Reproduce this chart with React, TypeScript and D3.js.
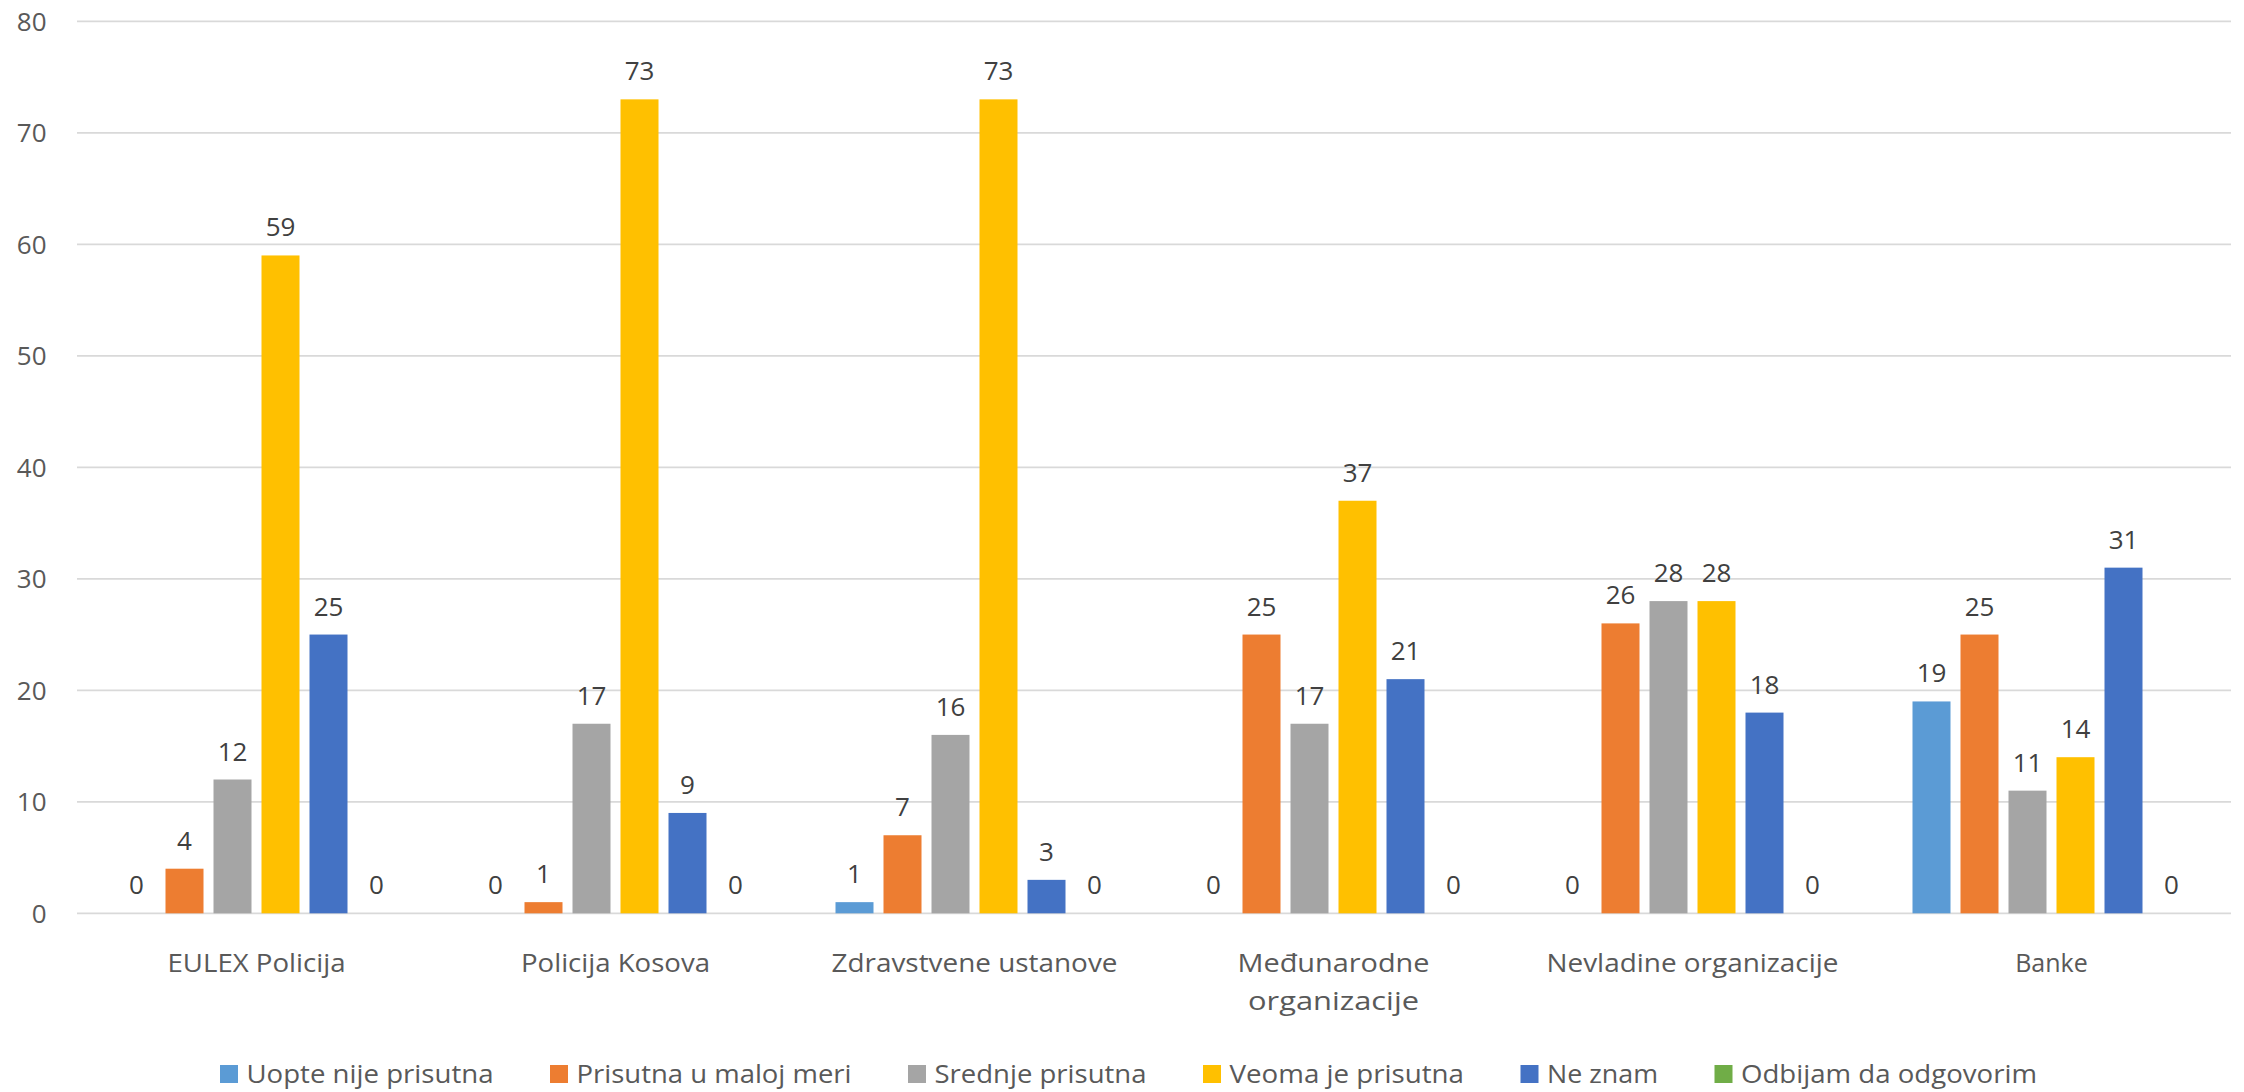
import React from "react";
import * as d3 from "d3";

const categories = [
  ["EULEX Policija"],
  ["Policija Kosova"],
  ["Zdravstvene ustanove"],
  ["Međunarodne", "organizacije"],
  ["Nevladine organizacije"],
  ["Banke"],
];

const seriesNames = [
  "Uopte nije prisutna",
  "Prisutna u maloj meri",
  "Srednje prisutna",
  "Veoma je prisutna",
  "Ne znam",
  "Odbijam da odgovorim",
];

const uopteNije = [0, 0, 1, 0, 0, 19];
const maloj = [4, 1, 7, 25, 26, 25];
const srednje = [12, 17, 16, 17, 28, 11];
const veoma = [59, 73, 73, 37, 28, 14];
const neZnam = [25, 9, 3, 21, 18, 31];
const odbijam = [0, 0, 0, 0, 0, 0];

const seriesValues = [uopteNije, maloj, srednje, veoma, neZnam, odbijam];

const yTicks = [0, 10, 20, 30, 40, 50, 60, 70, 80];

const colors = ["#5B9BD5", "#ED7D31", "#A5A5A5", "#FFC000", "#4472C4", "#70AD47"];

// layout-only constants (measured text widths from reference)
const catLabelWidths: (number | undefined)[][] = [[178], [189], [286], [192, 171], [292], [undefined]];
const legendTextWidths = [247, 275, 212, 234.5, 111, 296];

const W = 2244;
const H = 1092;
const plotLeft = 77;
const plotRight = 2231;
const plotTop = 21.3;
const plotBottom = 913.3;
const FONT = "'Open Sans', 'Noto Sans', sans-serif";

export default function App() {
  const x0 = d3
    .scaleBand<number>()
    .domain(categories.map((_, i) => i))
    .range([plotLeft, plotRight])
    .paddingInner(0)
    .paddingOuter(0);

  const groupW = 288;
  const x1 = d3
    .scaleBand<number>()
    .domain(seriesNames.map((_, i) => i))
    .range([-groupW / 2, groupW / 2])
    .paddingInner(10 / 48)
    .paddingOuter(5 / 48);

  const y = d3.scaleLinear().domain([0, 80]).range([plotBottom, plotTop]);

  // legend layout
  const legendStart = 220;
  const sq = 18;
  const sqGap = 8.5;
  const itemGap = 56.5;
  const legendItems: { sx: number; tx: number; w: number }[] = [];
  let cx = legendStart;
  legendTextWidths.forEach((w) => {
    legendItems.push({ sx: cx, tx: cx + sq + sqGap, w });
    cx += sq + sqGap + w + itemGap;
  });

  return (
    <svg
      width={W}
      height={H}
      style={{ position: "absolute", left: 0, top: 0, background: "#fff" }}
    >
      <rect x={0} y={0} width={W} height={H} fill="#fff" />
      {yTicks.map((t) => (
        <g key={t}>
          <line
            x1={plotLeft}
            x2={plotRight}
            y1={y(t)}
            y2={y(t)}
            stroke="#D9D9D9"
            strokeWidth={1.8}
          />
          <text
            x={46.5}
            y={y(t)}
            dy="0.36em"
            textAnchor="end"
            fontFamily={FONT}
            fontSize={26}
            fill="#595959"
          >
            {t}
          </text>
        </g>
      ))}

      {categories.map((cat, ci) => {
        const cxc = (x0(ci) ?? 0) + x0.bandwidth() / 2;
        return (
          <g key={ci}>
            {seriesValues.map((vals, si) => {
              const v = vals[ci];
              const bx = cxc + (x1(si) ?? 0);
              const bw = x1.bandwidth();
              return (
                <g key={si}>
                  {v > 0 && (
                    <rect
                      x={bx}
                      y={y(v)}
                      width={bw}
                      height={y(0) - y(v)}
                      fill={colors[si]}
                    />
                  )}
                  <text
                    x={bx + bw / 2}
                    y={y(v) - 19}
                    textAnchor="middle"
                    fontFamily={FONT}
                    fontSize={26}
                    fill="#404040"
                  >
                    {v}
                  </text>
                </g>
              );
            })}
            {cat.map((line, li) => {
              const tl = catLabelWidths[ci][li];
              return (
                <text
                  key={li}
                  x={cxc}
                  y={972 + li * 38}
                  textAnchor="middle"
                  fontFamily={FONT}
                  fontSize={25}
                  fill="#595959"
                  {...(tl ? { textLength: tl, lengthAdjust: "spacingAndGlyphs" } : {})}
                >
                  {line}
                </text>
              );
            })}
          </g>
        );
      })}

      {seriesNames.map((name, si) => {
        const it = legendItems[si];
        return (
          <g key={name}>
            <rect x={it.sx} y={1065} width={sq} height={sq} fill={colors[si]} />
            <text
              x={it.tx}
              y={1082.5}
              fontFamily={FONT}
              fontSize={26}
              fill="#595959"
              textLength={it.w}
              lengthAdjust="spacingAndGlyphs"
            >
              {name}
            </text>
          </g>
        );
      })}
    </svg>
  );
}
